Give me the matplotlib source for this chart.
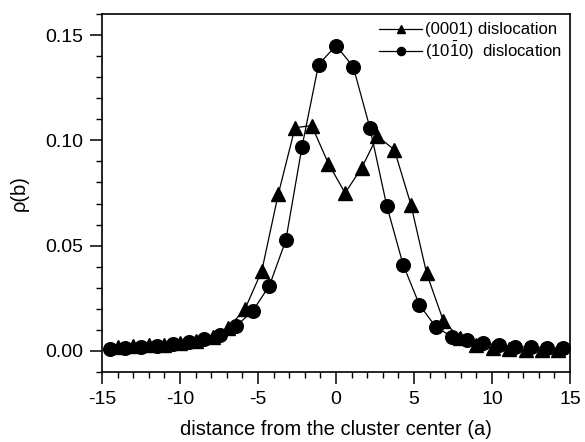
import numpy as np
import matplotlib
matplotlib.use('Agg')
from matplotlib import pyplot as plt
from matplotlib.ticker import MultipleLocator

# (10-10) dislocation, circles
x_circ = [-14.5, -13.5, -12.5, -11.5, -10.45, -9.45, -8.45, -7.45, -6.4, -5.34,
          -4.27, -3.22, -2.18, -1.12, 0.0, 1.1, 2.17, 3.25, 4.3, 5.34,
          6.38, 7.42, 8.42, 9.45, 10.45, 11.47, 12.47, 13.5, 14.55]
y_circ = [0.0010, 0.0015, 0.0020, 0.0024, 0.0032, 0.0042, 0.0055, 0.0078, 0.0118, 0.019,
          0.031, 0.0525, 0.097, 0.136, 0.145, 0.135, 0.106, 0.069, 0.041, 0.022,
          0.0115, 0.0068, 0.0052, 0.0037, 0.0028, 0.0021, 0.0017, 0.0016, 0.0013]

# (0001) dislocation, triangles
x_tri = [-14.0, -13.0, -12.0, -11.0, -10.0, -8.95, -7.9, -6.9, -5.83, -4.76,
         -3.7, -2.63, -1.56, -0.49, 0.58, 1.65, 2.65, 3.74, 4.8, 5.81,
         6.88, 7.95, 9.0, 10.05, 11.1, 12.15, 13.2, 14.25]
y_tri = [0.0020, 0.0022, 0.0026, 0.0030, 0.0037, 0.0048, 0.0065, 0.011, 0.020, 0.038,
         0.0745, 0.106, 0.107, 0.089, 0.075, 0.087, 0.102, 0.0955, 0.0695, 0.0368,
         0.0143, 0.006, 0.003, 0.0015, 0.0008, 0.0005, 0.0004, 0.0003]

plt.rcParams['font.family'] = ['Liberation Sans', 'DejaVu Sans']
plt.rcParams['mathtext.fontset'] = 'custom'
plt.rcParams['mathtext.rm'] = 'Liberation Sans'
plt.rcParams['axes.unicode_minus'] = False

fig = plt.figure(figsize=(5.85, 4.42), dpi=100)
ax = fig.add_axes([0.1744, 0.1584, 0.80, 0.8099])

ax.plot(x_tri, y_tri, '-', color='black', lw=0.9, marker='^', ms=10,
        label='(0001) dislocation')
ax.plot(x_circ, y_circ, '-', color='black', lw=0.9, marker='o', ms=9.8,
        label=r'(10$\mathregular{\bar{1}}$0)  dislocation')

ax.set_xlim(-15, 15)
ax.set_ylim(-0.01, 0.16)
ax.xaxis.set_major_locator(MultipleLocator(5))
ax.xaxis.set_minor_locator(MultipleLocator(1))
ax.yaxis.set_major_locator(MultipleLocator(0.05))
ax.yaxis.set_minor_locator(MultipleLocator(0.01))
ax.yaxis.set_major_formatter(matplotlib.ticker.FormatStrFormatter('%.2f'))
ax.tick_params(which='major', direction='out', length=8.6, width=1.1, labelsize=14, pad=5)
ax.tick_params(which='minor', direction='out', length=4.3, width=1.0)
for s in ax.spines.values():
    s.set_linewidth(1.2)

ax.set_xlabel('distance from the cluster center (a)', fontsize=14.5, labelpad=9)
ax.set_ylabel(u'\u03c1(b)', fontsize=14.5, labelpad=12)

ax.legend(loc='upper right', frameon=False, fontsize=12, handlelength=2.6,
          markerscale=0.6, borderaxespad=0.3, borderpad=0.2, labelspacing=0.12,
          handletextpad=0.15)

fig.savefig('out.png', dpi=100)
